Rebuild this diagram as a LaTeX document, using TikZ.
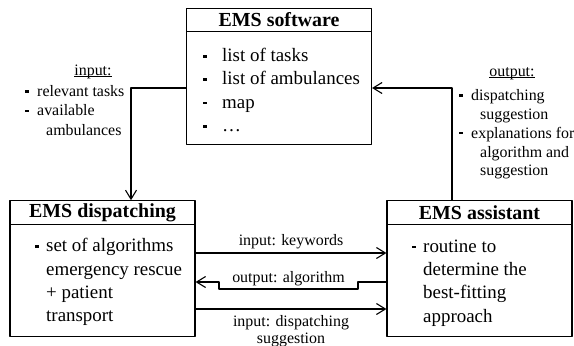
\documentclass[tikz,border=0pt]{standalone}
\usepackage{fontspec}
\setmainfont{Liberation Serif}
\usetikzlibrary{arrows.meta}
% little bar used in front of list items
\newcommand\bitem[1][12bp]{\makebox[#1][l]{\raisebox{4bp}{\rule{3.5bp}{2.4bp}}}}

\begin{document}
\begin{tikzpicture}[>={Straight Barb[length=9bp,width=11bp]},line join=bevel,x=1bp,y=-1bp,
  head/.style={draw,line width=1.1bp,minimum width=185bp,minimum height=23.5bp,inner sep=0pt,font=\fontsize{20}{24}\selectfont\bfseries},
  body/.style={draw,line width=1.1bp,minimum width=185bp,minimum height=112.5bp,inner sep=0pt},
  items/.style={anchor=west,align=left,inner sep=0pt,font=\fontsize{19}{23.4}\selectfont},
  note/.style={align=left,inner sep=0pt,font=\fontsize{16}{19.2}\selectfont},
  flow/.style={->,line width=1.1bp}]
\useasboundingbox (0,0) rectangle (574,345);
%%
\node (node_software) at (279,20) [head] {EMS software};
  \node (node_software_body) at (279,88) [body] {};
  \node (node_dispatching) at (102.5,212.5) [head] {EMS dispatching};
  \node (node_dispatching_body) at (102.5,280.5) [body] {};
  \node (node_assistant) at (479.5,212.5) [head] {EMS assistant};
  \node (node_assistant_body) at (479.5,280.5) [body] {};
  \node (node_software_items) at (203,90) [items] {\bitem[19bp]list of tasks\\ \bitem[19bp]list of ambulances\\ \bitem[19bp]map\\ \bitem[19bp]\dots};
  \node (node_dispatching_items) at (35,282) [items] {\bitem[11bp]set of algorithms\\ \hspace*{11bp}emergency rescue\\ \hspace*{11bp}+ patient\\ \hspace*{11bp}transport};
  \node (node_assistant_items) at (412,283) [items] {\bitem[11bp]routine to\\ \hspace*{11bp}determine the\\ \hspace*{11bp}best-fitting\\ \hspace*{11bp}approach};
  \node (node_input) at (93,76) [note] {\underline{\smash{input:}}};
  \node (node_input_items) at (25,110.5) [note,anchor=west,font=\fontsize{16}{19.5}\selectfont] {\bitem relevant tasks\\ \bitem available\\ \hspace*{21bp}ambulances};
  \node (node_output) at (512,77) [note] {\underline{\smash{output:}}};
  \node (node_output_items) at (459,134.5) [note,anchor=west,font=\fontsize{16}{18.8}\selectfont] {\bitem dispatching\\ \hspace*{21bp}suggestion\\ \bitem explanations for\\ \hspace*{21bp}algorithm and\\ \hspace*{21bp}suggestion};
  \draw [flow] (node_software_body.west |- 0,88) -| (131,0 |- node_dispatching.north);
  \draw [flow] (452,0 |- node_assistant.north) |- (node_software_body.east |- 0,88);
  \draw [flow] (node_dispatching_body.east |- 0,253) -- (node_assistant_body.west |- 0,253) node [note,midway,above=3.5bp] {input: keywords};
  \draw [flow] (node_assistant_body.west |- 0,282) -- (358,282) -- (358,289) -- node [note,above=3bp] {output: algorithm} (219,289) -- (219,282) -- (node_dispatching_body.east |- 0,282);
  \draw [flow] (node_dispatching_body.east |- 0,309) -- (node_assistant_body.west |- 0,309) node [note,midway,below=5.5bp,align=center,font=\fontsize{16}{17}\selectfont] {input: dispatching\\suggestion};
%
\end{tikzpicture}
\end{document}
